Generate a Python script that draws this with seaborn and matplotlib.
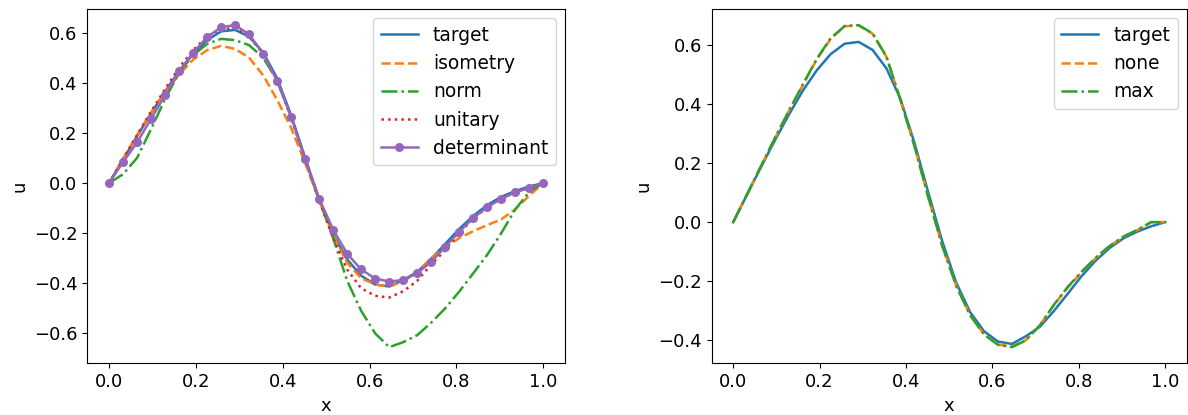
import numpy as np
import matplotlib
matplotlib.use("Agg")
import matplotlib.pyplot as plt
import seaborn as sns

# 32-point grid on [0, 1]
x = np.linspace(0.0, 1.0, 32)

target = [0.000, 0.094, 0.187, 0.278, 0.365, 0.446, 0.515, 0.570, 0.605, 0.611,
          0.584, 0.521, 0.418, 0.270, 0.100, -0.065, -0.205, -0.305, -0.370, -0.405,
          -0.413, -0.387, -0.355, -0.302, -0.243, -0.183, -0.131, -0.088, -0.055, -0.032,
          -0.014, 0.000]

isometry = [0.000, 0.097, 0.192, 0.282, 0.362, 0.432, 0.492, 0.530, 0.547, 0.535,
            0.500, 0.430, 0.332, 0.220, 0.080, -0.070, -0.210, -0.318, -0.380, -0.405,
            -0.413, -0.393, -0.356, -0.300, -0.255, -0.220, -0.192, -0.168, -0.145, -0.105,
            -0.050, 0.000]

norm = [0.000, 0.035, 0.100, 0.215, 0.335, 0.440, 0.510, 0.555, 0.575, 0.570,
        0.550, 0.500, 0.410, 0.265, 0.100, -0.065, -0.220, -0.390, -0.510, -0.600,
        -0.655, -0.635, -0.607, -0.557, -0.500, -0.433, -0.360, -0.286, -0.200, -0.105,
        -0.035, 0.000]

unitary = [0.000, 0.095, 0.190, 0.285, 0.375, 0.460, 0.530, 0.585, 0.615, 0.617,
           0.585, 0.515, 0.410, 0.260, 0.090, -0.070, -0.220, -0.345, -0.420, -0.450,
           -0.457, -0.432, -0.390, -0.325, -0.268, -0.200, -0.142, -0.096, -0.062, -0.036,
           -0.016, 0.000]

determinant = [0.000, 0.083, 0.162, 0.256, 0.350, 0.445, 0.520, 0.582, 0.622, 0.630,
               0.593, 0.516, 0.407, 0.263, 0.095, -0.062, -0.186, -0.282, -0.345, -0.381,
               -0.393, -0.387, -0.360, -0.314, -0.255, -0.194, -0.140, -0.096, -0.063, -0.037,
               -0.020, 0.000]

none = [0.000, 0.095, 0.190, 0.285, 0.377, 0.465, 0.552, 0.622, 0.664, 0.667,
        0.639, 0.560, 0.414, 0.260, 0.085, -0.080, -0.215, -0.315, -0.380, -0.415,
        -0.422, -0.400, -0.350, -0.282, -0.222, -0.170, -0.123, -0.082, -0.050, -0.027,
        0.000, 0.000]

max_ = [0.000, 0.095, 0.191, 0.286, 0.378, 0.467, 0.554, 0.624, 0.665, 0.668,
        0.640, 0.561, 0.414, 0.259, 0.084, -0.081, -0.216, -0.316, -0.381, -0.416,
        -0.424, -0.401, -0.350, -0.281, -0.220, -0.168, -0.121, -0.081, -0.049, -0.026,
        0.000, 0.000]

left_series = [
    ("target", target, "tab:blue", "-", None),
    ("isometry", isometry, "tab:orange", "--", None),
    ("norm", norm, "tab:green", "-.", None),
    ("unitary", unitary, "tab:red", ":", None),
    ("determinant", determinant, "tab:purple", "-", "o"),
]
right_series = [
    ("target", target, "tab:blue", "-", None),
    ("none", none, "tab:orange", "--", None),
    ("max", max_, "tab:green", "-.", None),
]

plt.rcParams["font.family"] = ["DejaVu Sans"]
fs = 13

fig = plt.figure(figsize=(11.88, 4.15), dpi=100)
ax1 = fig.add_axes([0.0735, 0.1246, 0.4021, 0.8537])
ax2 = fig.add_axes([0.599, 0.1246, 0.400, 0.8537])

for ax, series in ((ax1, left_series), (ax2, right_series)):
    for name, vals, color, ls, mk in series:
        kw = dict(x=x, y=vals, ax=ax, color=color, linestyle=ls, label=name,
                  linewidth=1.8)
        if mk:
            kw.update(marker=mk, markersize=6.5, markeredgewidth=0)
        sns.lineplot(**kw)
    ax.set_xlabel("x", fontsize=fs)
    ax.set_ylabel("u", fontsize=fs)
    ax.set_xticks([0.0, 0.2, 0.4, 0.6, 0.8, 1.0])
    ax.tick_params(labelsize=fs)
    ax.legend(loc="upper right", fontsize=13.4)

ax1.set_yticks([-0.6, -0.4, -0.2, 0.0, 0.2, 0.4, 0.6])
ax2.set_yticks([-0.4, -0.2, 0.0, 0.2, 0.4, 0.6])

fig.savefig("out.png", dpi=100)
